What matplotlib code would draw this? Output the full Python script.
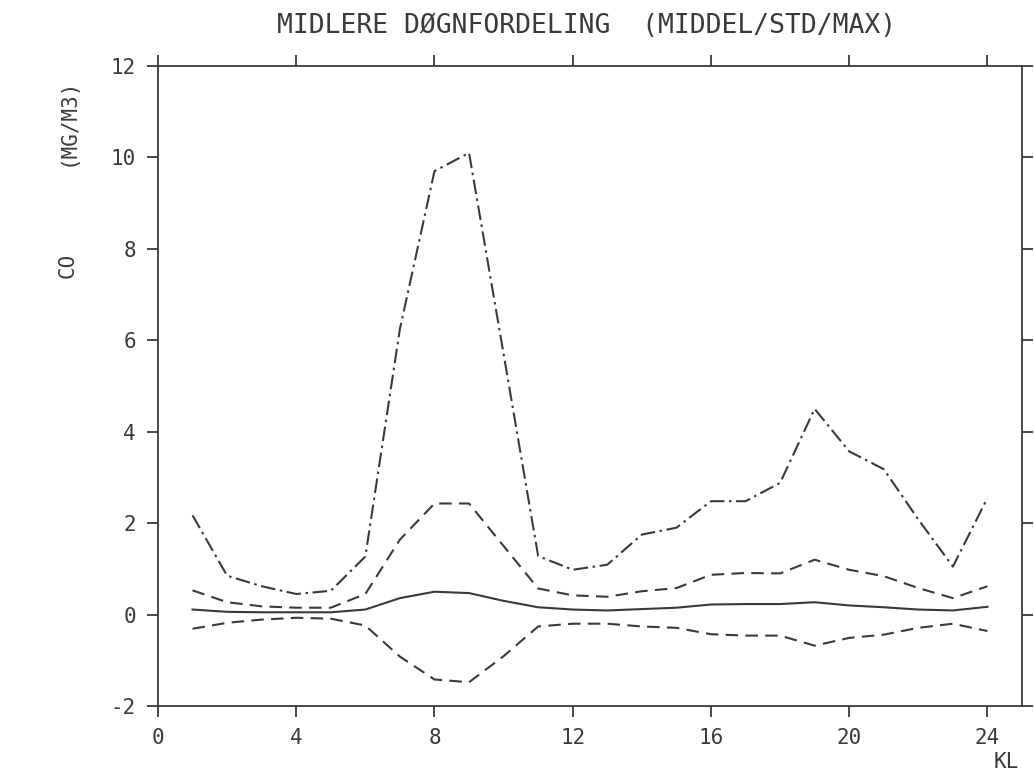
import numpy as np
import matplotlib.pyplot as plt

plt.rcParams['font.family'] = ['DejaVu Sans Mono']
plt.rcParams['axes.unicode_minus'] = False

# hours of the day
hours = np.arange(1, 25)
# CO concentrations (mg/m3)
co_max = [2.17, 0.85, 0.62, 0.45, 0.52, 1.27, 6.25, 9.7, 10.1, 5.7, 1.28, 0.98,
          1.09, 1.75, 1.9, 2.48, 2.48, 2.88, 4.5, 3.57, 3.18, 2.08, 1.05, 2.55]
co_upper = [0.53, 0.27, 0.18, 0.15, 0.15, 0.45, 1.64, 2.43, 2.43, 1.5, 0.57, 0.42,
            0.39, 0.51, 0.58, 0.87, 0.91, 0.9, 1.2, 0.98, 0.84, 0.58, 0.36, 0.62]
co_mean = [0.11, 0.06, 0.05, 0.05, 0.05, 0.11, 0.36, 0.5, 0.47, 0.3, 0.16, 0.11,
           0.09, 0.12, 0.15, 0.22, 0.23, 0.23, 0.27, 0.2, 0.16, 0.11, 0.09, 0.17]
co_lower = [-0.31, -0.18, -0.11, -0.07, -0.09, -0.24, -0.92, -1.42, -1.48, -0.91, -0.26, -0.2,
            -0.2, -0.26, -0.29, -0.43, -0.46, -0.46, -0.68, -0.51, -0.44, -0.29, -0.2, -0.36]

xticks = [0, 4, 8, 12, 16, 20, 24]
yticks = [-2, 0, 2, 4, 6, 8, 10, 12]

ink = '#3a3a3a'

fig = plt.figure(figsize=(10.34, 7.78), dpi=100)
ax = fig.add_axes([158/1034, 1 - 706/778, (1022 - 158)/1034, (706 - 66)/778])

ax.plot(hours, co_max, color=ink, lw=1.5, linestyle=(0, (7, 2.2, 1.2, 2.2)))
ax.plot(hours, co_upper, color=ink, lw=1.5, linestyle=(0, (6, 3.5)))
ax.plot(hours, co_mean, color=ink, lw=1.5, linestyle='-')
ax.plot(hours, co_lower, color=ink, lw=1.5, linestyle=(0, (6, 3.5)))

ax.set_xlim(0, 25)
ax.set_ylim(-2, 12)
ax.set_xticks(xticks)
ax.set_yticks(yticks)
ax.tick_params(axis='both', direction='out', length=8, width=1.3, color=ink,
               labelcolor=ink, labelsize=15, pad=8,
               top=True, right=True)
for s in ax.spines.values():
    s.set_color(ink)
    s.set_linewidth(1.3)

fig.text(587/1034, 1 - 26/778, 'MIDLERE DØGNFORDELING  (MIDDEL/STD/MAX)',
         ha='center', va='center', fontsize=19, color=ink)
fig.text(68/1034, 1 - 265/778, 'CO', rotation=90, ha='center', va='center',
         fontsize=15, color=ink)
fig.text(68/1034, 1 - 122/778, '(MG/M3)', rotation=90, ha='center', va='center',
         fontsize=15, color=ink)
fig.text(1006/1034, 1 - 762/778, 'KL', ha='center', va='center',
         fontsize=15, color=ink)

fig.savefig('out.png', dpi=100)
